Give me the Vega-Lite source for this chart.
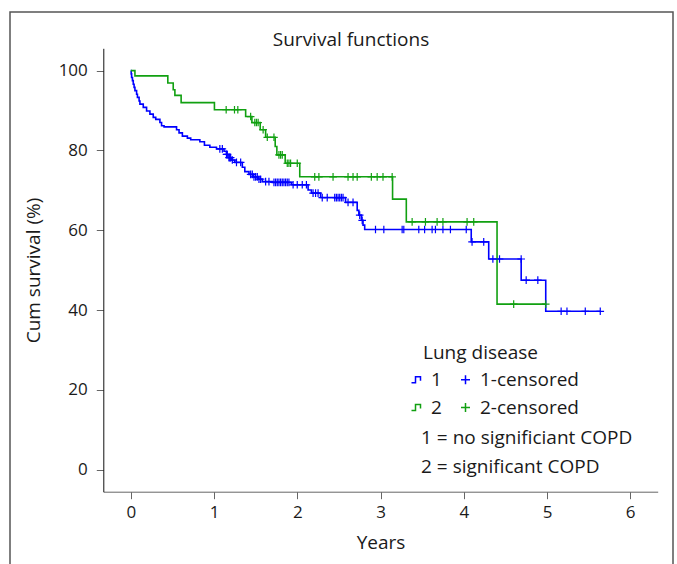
{
  "$schema": "https://vega.github.io/schema/vega-lite/v6.json",
  "autosize": {"type": "none"},
  "padding": {"left": 10, "top": 12, "right": 4, "bottom": -8},
  "width": 663,
  "height": 560,
  "background": "white",
  "config": {
    "font": "Open Sans",
    "view": {"stroke": "#555555", "strokeWidth": 1.5},
    "axis": {
      "grid": false,
      "labelFontSize": 17,
      "labelColor": "#1a1a1a",
      "titleFontSize": 19,
      "titleFontWeight": "normal",
      "titleColor": "#1a1a1a",
      "tickSize": 7,
      "tickColor": "#666666",
      "labelFlush": false,
      "labelOverlap": false
    },
    "legend": {
      "orient": "none",
      "legendX": 397,
      "legendY": 358,
      "direction": "horizontal",
      "columns": 2,
      "columnPadding": 14,
      "rowPadding": 8,
      "labelFontSize": 19,
      "labelColor": "#1a1a1a",
      "labelOffset": 5,
      "symbolSize": 100,
      "symbolStrokeWidth": 1.5,
      "symbolFillColor": "transparent",
      "padding": 0
    }
  },
  "title": {
    "text": "Survival functions",
    "frame": "group",
    "anchor": "middle",
    "dx": 9.5,
    "offset": -47,
    "baseline": "middle",
    "fontSize": 19,
    "fontWeight": "normal",
    "color": "#1a1a1a"
  },
  "datasets": {
    "steps": [
      {"series": "1", "t": 0, "S": 100},
      {"series": "1", "t": 0.005, "S": 99.2},
      {"series": "1", "t": 0.01, "S": 98.3},
      {"series": "1", "t": 0.02, "S": 97.5},
      {"series": "1", "t": 0.03, "S": 96.6},
      {"series": "1", "t": 0.04, "S": 95.8},
      {"series": "1", "t": 0.05, "S": 95.0},
      {"series": "1", "t": 0.07, "S": 94.1},
      {"series": "1", "t": 0.08, "S": 93.3},
      {"series": "1", "t": 0.10, "S": 92.4},
      {"series": "1", "t": 0.11, "S": 91.6},
      {"series": "1", "t": 0.15, "S": 90.8},
      {"series": "1", "t": 0.19, "S": 89.9},
      {"series": "1", "t": 0.23, "S": 89.1},
      {"series": "1", "t": 0.27, "S": 88.3},
      {"series": "1", "t": 0.30, "S": 87.8},
      {"series": "1", "t": 0.35, "S": 87.0},
      {"series": "1", "t": 0.37, "S": 86.2},
      {"series": "1", "t": 0.40, "S": 85.9},
      {"series": "1", "t": 0.55, "S": 85.2},
      {"series": "1", "t": 0.58, "S": 84.4},
      {"series": "1", "t": 0.62, "S": 83.6},
      {"series": "1", "t": 0.68, "S": 83.1},
      {"series": "1", "t": 0.72, "S": 82.7},
      {"series": "1", "t": 0.83, "S": 82.2},
      {"series": "1", "t": 0.885, "S": 81.3},
      {"series": "1", "t": 0.95, "S": 80.8},
      {"series": "1", "t": 1.03, "S": 80.4},
      {"series": "1", "t": 1.12, "S": 79.8},
      {"series": "1", "t": 1.15, "S": 79.0},
      {"series": "1", "t": 1.18, "S": 78.2},
      {"series": "1", "t": 1.21, "S": 77.6},
      {"series": "1", "t": 1.25, "S": 77.0},
      {"series": "1", "t": 1.34, "S": 75.8},
      {"series": "1", "t": 1.37, "S": 74.7},
      {"series": "1", "t": 1.42, "S": 74.0},
      {"series": "1", "t": 1.47, "S": 73.4},
      {"series": "1", "t": 1.53, "S": 72.8},
      {"series": "1", "t": 1.58, "S": 72.2},
      {"series": "1", "t": 1.70, "S": 72.0},
      {"series": "1", "t": 1.93, "S": 71.4},
      {"series": "1", "t": 2.13, "S": 70.1},
      {"series": "1", "t": 2.17, "S": 69.3},
      {"series": "1", "t": 2.28, "S": 68.2},
      {"series": "1", "t": 2.58, "S": 67.0},
      {"series": "1", "t": 2.72, "S": 65.0},
      {"series": "1", "t": 2.74, "S": 63.8},
      {"series": "1", "t": 2.77, "S": 62.5},
      {"series": "1", "t": 2.79, "S": 61.3},
      {"series": "1", "t": 2.81, "S": 60.2},
      {"series": "1", "t": 4.09, "S": 57.1},
      {"series": "1", "t": 4.30, "S": 52.8},
      {"series": "1", "t": 4.69, "S": 47.5},
      {"series": "1", "t": 4.985, "S": 39.7},
      {"series": "1", "t": 5.64, "S": 39.7},
      {"series": "2", "t": 0, "S": 100},
      {"series": "2", "t": 0.05, "S": 98.7},
      {"series": "2", "t": 0.445, "S": 96.9},
      {"series": "2", "t": 0.51, "S": 95.2},
      {"series": "2", "t": 0.53, "S": 93.8},
      {"series": "2", "t": 0.605, "S": 92.0},
      {"series": "2", "t": 1.005, "S": 90.2},
      {"series": "2", "t": 1.38, "S": 88.5},
      {"series": "2", "t": 1.455, "S": 87.0},
      {"series": "2", "t": 1.555, "S": 85.2},
      {"series": "2", "t": 1.62, "S": 83.3},
      {"series": "2", "t": 1.735, "S": 81.0},
      {"series": "2", "t": 1.755, "S": 78.9},
      {"series": "2", "t": 1.855, "S": 76.8},
      {"series": "2", "t": 2.03, "S": 73.4},
      {"series": "2", "t": 3.145, "S": 67.8},
      {"series": "2", "t": 3.31, "S": 62.1},
      {"series": "2", "t": 4.40, "S": 41.5},
      {"series": "2", "t": 4.985, "S": 41.5}
    ],
    "censored": [
      {"series": "1-censored", "t": 1.07, "S": 80.4},
      {"series": "1-censored", "t": 1.10, "S": 80.4},
      {"series": "1-censored", "t": 1.15, "S": 79.0},
      {"series": "1-censored", "t": 1.16, "S": 79.0},
      {"series": "1-censored", "t": 1.18, "S": 78.2},
      {"series": "1-censored", "t": 1.19, "S": 78.2},
      {"series": "1-censored", "t": 1.20, "S": 78.2},
      {"series": "1-censored", "t": 1.22, "S": 77.6},
      {"series": "1-censored", "t": 1.27, "S": 77.0},
      {"series": "1-censored", "t": 1.32, "S": 77.0},
      {"series": "1-censored", "t": 1.44, "S": 74.0},
      {"series": "1-censored", "t": 1.46, "S": 74.0},
      {"series": "1-censored", "t": 1.48, "S": 73.4},
      {"series": "1-censored", "t": 1.50, "S": 73.4},
      {"series": "1-censored", "t": 1.52, "S": 73.4},
      {"series": "1-censored", "t": 1.54, "S": 72.8},
      {"series": "1-censored", "t": 1.56, "S": 72.8},
      {"series": "1-censored", "t": 1.62, "S": 72.2},
      {"series": "1-censored", "t": 1.66, "S": 72.2},
      {"series": "1-censored", "t": 1.72, "S": 72.0},
      {"series": "1-censored", "t": 1.74, "S": 72.0},
      {"series": "1-censored", "t": 1.76, "S": 72.0},
      {"series": "1-censored", "t": 1.78, "S": 72.0},
      {"series": "1-censored", "t": 1.80, "S": 72.0},
      {"series": "1-censored", "t": 1.82, "S": 72.0},
      {"series": "1-censored", "t": 1.84, "S": 72.0},
      {"series": "1-censored", "t": 1.86, "S": 72.0},
      {"series": "1-censored", "t": 1.88, "S": 72.0},
      {"series": "1-censored", "t": 1.90, "S": 72.0},
      {"series": "1-censored", "t": 1.95, "S": 71.4},
      {"series": "1-censored", "t": 2.00, "S": 71.4},
      {"series": "1-censored", "t": 2.06, "S": 71.4},
      {"series": "1-censored", "t": 2.11, "S": 71.4},
      {"series": "1-censored", "t": 2.19, "S": 69.3},
      {"series": "1-censored", "t": 2.22, "S": 69.3},
      {"series": "1-censored", "t": 2.25, "S": 69.3},
      {"series": "1-censored", "t": 2.30, "S": 68.2},
      {"series": "1-censored", "t": 2.36, "S": 68.2},
      {"series": "1-censored", "t": 2.45, "S": 68.2},
      {"series": "1-censored", "t": 2.47, "S": 68.2},
      {"series": "1-censored", "t": 2.49, "S": 68.2},
      {"series": "1-censored", "t": 2.51, "S": 68.2},
      {"series": "1-censored", "t": 2.53, "S": 68.2},
      {"series": "1-censored", "t": 2.55, "S": 68.2},
      {"series": "1-censored", "t": 2.61, "S": 67.0},
      {"series": "1-censored", "t": 2.67, "S": 67.0},
      {"series": "1-censored", "t": 2.75, "S": 63.8},
      {"series": "1-censored", "t": 2.78, "S": 62.5},
      {"series": "1-censored", "t": 2.94, "S": 60.2},
      {"series": "1-censored", "t": 3.04, "S": 60.2},
      {"series": "1-censored", "t": 3.26, "S": 60.2},
      {"series": "1-censored", "t": 3.28, "S": 60.2},
      {"series": "1-censored", "t": 3.46, "S": 60.2},
      {"series": "1-censored", "t": 3.53, "S": 60.2},
      {"series": "1-censored", "t": 3.62, "S": 60.2},
      {"series": "1-censored", "t": 3.66, "S": 60.2},
      {"series": "1-censored", "t": 3.75, "S": 60.2},
      {"series": "1-censored", "t": 3.84, "S": 60.2},
      {"series": "1-censored", "t": 4.03, "S": 60.2},
      {"series": "1-censored", "t": 4.10, "S": 57.1},
      {"series": "1-censored", "t": 4.24, "S": 57.1},
      {"series": "1-censored", "t": 4.35, "S": 52.8},
      {"series": "1-censored", "t": 4.43, "S": 52.8},
      {"series": "1-censored", "t": 4.69, "S": 52.8},
      {"series": "1-censored", "t": 4.75, "S": 47.5},
      {"series": "1-censored", "t": 4.89, "S": 47.5},
      {"series": "1-censored", "t": 5.17, "S": 39.7},
      {"series": "1-censored", "t": 5.24, "S": 39.7},
      {"series": "1-censored", "t": 5.46, "S": 39.7},
      {"series": "1-censored", "t": 5.64, "S": 39.7},
      {"series": "2-censored", "t": 1.146, "S": 90.2},
      {"series": "2-censored", "t": 1.246, "S": 90.2},
      {"series": "2-censored", "t": 1.286, "S": 90.2},
      {"series": "2-censored", "t": 1.44, "S": 88.5},
      {"series": "2-censored", "t": 1.49, "S": 87.0},
      {"series": "2-censored", "t": 1.51, "S": 87.0},
      {"series": "2-censored", "t": 1.53, "S": 87.0},
      {"series": "2-censored", "t": 1.59, "S": 85.2},
      {"series": "2-censored", "t": 1.64, "S": 83.3},
      {"series": "2-censored", "t": 1.72, "S": 83.3},
      {"series": "2-censored", "t": 1.78, "S": 78.9},
      {"series": "2-censored", "t": 1.80, "S": 78.9},
      {"series": "2-censored", "t": 1.82, "S": 78.9},
      {"series": "2-censored", "t": 1.88, "S": 76.8},
      {"series": "2-censored", "t": 1.90, "S": 76.8},
      {"series": "2-censored", "t": 1.92, "S": 76.8},
      {"series": "2-censored", "t": 2.00, "S": 76.8},
      {"series": "2-censored", "t": 2.21, "S": 73.4},
      {"series": "2-censored", "t": 2.26, "S": 73.4},
      {"series": "2-censored", "t": 2.43, "S": 73.4},
      {"series": "2-censored", "t": 2.61, "S": 73.4},
      {"series": "2-censored", "t": 2.67, "S": 73.4},
      {"series": "2-censored", "t": 2.72, "S": 73.4},
      {"series": "2-censored", "t": 2.89, "S": 73.4},
      {"series": "2-censored", "t": 2.96, "S": 73.4},
      {"series": "2-censored", "t": 3.03, "S": 73.4},
      {"series": "2-censored", "t": 3.14, "S": 73.4},
      {"series": "2-censored", "t": 3.38, "S": 62.1},
      {"series": "2-censored", "t": 3.54, "S": 62.1},
      {"series": "2-censored", "t": 3.68, "S": 62.1},
      {"series": "2-censored", "t": 3.75, "S": 62.1},
      {"series": "2-censored", "t": 4.04, "S": 62.1},
      {"series": "2-censored", "t": 4.12, "S": 62.1},
      {"series": "2-censored", "t": 4.60, "S": 41.5},
      {"series": "2-censored", "t": 4.985, "S": 41.5}
    ],
    "notes": [
      {"note": "Lung disease", "t": 3.511, "S": 29.2},
      {"note": "1 = no significiant COPD", "t": 3.487, "S": 7.9},
      {"note": "2 = significant COPD", "t": 3.487, "S": 0.6}
    ]
  },
  "layer": [
    {
      "data": {"name": "steps"},
      "mark": {"type": "line", "interpolate": "step-after", "strokeWidth": 1.6},
      "encoding": {
        "x": {
          "field": "t",
          "type": "quantitative",
          "scale": {"domain": [-0.33, 6.33], "range": [93.3, 647.7], "nice": false, "zero": false},
          "axis": {
            "orient": "bottom",
            "offset": -80.3,
            "values": [0, 1, 2, 3, 4, 5, 6],
            "format": "d",
            "title": "Years",
            "domainColor": "#666666",
            "labelPadding": 6,
            "titlePadding": 13
          }
        },
        "y": {
          "field": "S",
          "type": "quantitative",
          "scale": {"domain": [-5.5, 105.6], "range": [479.7, 36.3], "nice": false, "zero": false},
          "axis": {
            "orient": "left",
            "offset": -93.3,
            "values": [0, 20, 40, 60, 80, 100],
            "format": "d",
            "title": "Cum survival (%)",
            "domainColor": "#111111",
            "labelPadding": 9,
            "titlePadding": 15
          }
        },
        "color": {
          "field": "series",
          "type": "nominal",
          "title": null,
          "scale": {
            "domain": ["1", "1-censored", "2", "2-censored"],
            "range": ["#0000ff", "#0000ff", "#11a011", "#11a011"]
          }
        },
        "detail": {"field": "series"}
      }
    },
    {
      "data": {"name": "censored"},
      "mark": {"type": "point", "filled": false, "size": 72, "strokeWidth": 1.2, "opacity": 1},
      "encoding": {
        "x": {"field": "t", "type": "quantitative"},
        "y": {"field": "S", "type": "quantitative"},
        "color": {"field": "series", "type": "nominal", "title": null},
        "shape": {
          "field": "series",
          "type": "nominal",
          "title": null,
          "scale": {
            "domain": ["1", "1-censored", "2", "2-censored"],
            "range": [
              "M-1,0.6H-0.2V-0.6H0.8V0.2",
              "M-0.9,0H0.9M0,-0.9V0.9",
              "M-1,0.6H-0.2V-0.6H0.8V0.2",
              "M-0.9,0H0.9M0,-0.9V0.9"
            ]
          }
        }
      }
    },
    {
      "data": {"name": "notes"},
      "mark": {"type": "text", "align": "left", "baseline": "middle", "fontSize": 19, "color": "#1a1a1a"},
      "encoding": {
        "x": {"field": "t", "type": "quantitative"},
        "y": {"field": "S", "type": "quantitative"},
        "text": {"field": "note"}
      }
    }
  ]
}
